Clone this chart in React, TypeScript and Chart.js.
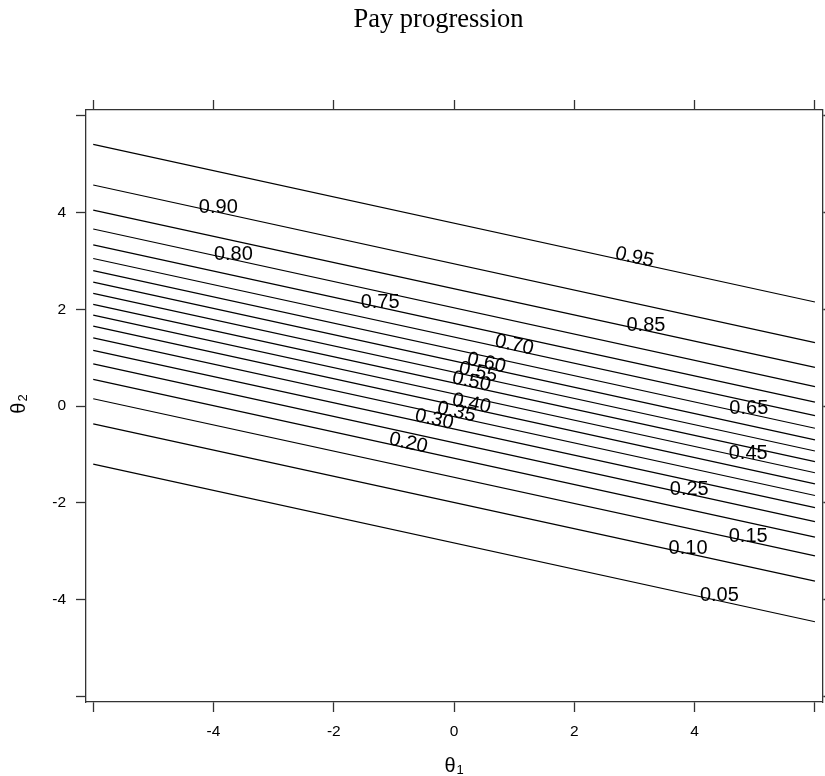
import React, { useEffect, useRef } from 'react';
import { Chart, registerables } from 'chart.js';

Chart.register(...registerables);

// Contour levels (probability) and their labels
const LEVEL_LABELS = ['0.05', '0.10', '0.15', '0.20', '0.25', '0.30', '0.35', '0.40', '0.45', '0.50',
  '0.55', '0.60', '0.65', '0.70', '0.75', '0.80', '0.85', '0.90', '0.95'];
// theta1 extent of every contour line
const THETA1_RANGE = [-6, 6];
// theta2 of each contour line at theta1 = -6 and theta1 = 6
const LEFT_THETA2 = [-1.20, -0.37, 0.15, 0.55, 0.87, 1.15, 1.41, 1.65, 1.88, 2.10,
  2.33, 2.56, 2.80, 3.05, 3.33, 3.66, 4.05, 4.57, 5.41];
const RIGHT_THETA2 = [-4.46, -3.62, -3.10, -2.71, -2.39, -2.10, -1.85, -1.61, -1.38, -1.15,
  -0.93, -0.70, -0.46, -0.20, 0.08, 0.40, 0.80, 1.31, 2.15];
// theta1 where each contour label sits, and whether it follows the line's angle
const LABEL_THETA1 = [4.41, 3.89, 4.89, -0.78, 3.91, -0.35, 0.02, 0.27, 4.89, 0.27,
  0.38, 0.52, 4.90, 0.98, -1.23, -3.67, 3.19, -3.92, 2.98];
const LABEL_ROTATED = [false, false, false, true, false, true, true, true, false, true,
  true, true, false, true, false, false, false, false, true];
// axes
const AXIS_LIMITS = [-6.12, 6.12];
const AXIS_TICKS = [-6, -4, -2, 0, 2, 4, 6];
const TICK_LABELS = ['', '-4', '-2', '0', '2', '4', ''];
const TITLE = 'Pay progression';

const SANS = '"Liberation Sans", Arial, Helvetica, sans-serif';
const SERIF = '"Liberation Serif", "Times New Roman", serif';
const AXIS_COLOR = '#333';

const decorations = {
  id: 'decorations',
  afterDatasetsDraw(chart: any) {
    const { ctx, scales, chartArea } = chart;
    const xs = scales.x;
    const ys = scales.y;
    ctx.save();
    ctx.fillStyle = '#000';
    // contour labels
    ctx.font = `20px ${SANS}`;
    ctx.textAlign = 'center';
    ctx.textBaseline = 'alphabetic';
    LEVEL_LABELS.forEach((lab, i) => {
      const t1 = LABEL_THETA1[i];
      const f = (t1 - THETA1_RANGE[0]) / (THETA1_RANGE[1] - THETA1_RANGE[0]);
      const t2 = LEFT_THETA2[i] + f * (RIGHT_THETA2[i] - LEFT_THETA2[i]);
      const px = xs.getPixelForValue(t1);
      const py = ys.getPixelForValue(t2);
      ctx.save();
      ctx.translate(px, py + 0.5);
      if (LABEL_ROTATED[i]) {
        const ang = Math.atan2(
          ys.getPixelForValue(RIGHT_THETA2[i]) - ys.getPixelForValue(LEFT_THETA2[i]),
          xs.getPixelForValue(THETA1_RANGE[1]) - xs.getPixelForValue(THETA1_RANGE[0])
        );
        ctx.rotate(ang);
      }
      ctx.fillText(lab, 0, 0);
      ctx.restore();
    });
    ctx.restore();
  },
  afterDraw(chart: any) {
    const { ctx, chartArea } = chart;
    ctx.save();
    ctx.fillStyle = '#000';
    // title
    ctx.font = `26.5px ${SERIF}`;
    ctx.textAlign = 'center';
    ctx.textBaseline = 'alphabetic';
    ctx.fillText(TITLE, 438.5, 27);

    // x axis title: theta_1
    const cx = (chartArea.left + chartArea.right) / 2;
    ctx.textAlign = 'left';
    ctx.font = `20px ${SANS}`;
    const wT = ctx.measureText('θ').width;
    ctx.font = `13px ${SANS}`;
    const w1 = ctx.measureText('1').width;
    let sx = cx - (wT + w1 + 1) / 2;
    ctx.font = `20px ${SANS}`;
    ctx.fillText('θ', sx, 772);
    ctx.font = `13px ${SANS}`;
    ctx.fillText('1', sx + wT + 1, 774);

    // y axis title: theta_2 (rotated)
    const cy = (chartArea.top + chartArea.bottom) / 2 - 2;
    ctx.save();
    ctx.translate(25, cy);
    ctx.rotate(-Math.PI / 2);
    ctx.font = `20px ${SANS}`;
    const wT2 = ctx.measureText('θ').width;
    ctx.font = `13px ${SANS}`;
    const w2 = ctx.measureText('2').width;
    const sx2 = -(wT2 + w2 + 1) / 2;
    ctx.font = `20px ${SANS}`;
    ctx.fillText('θ', sx2, 0);
    ctx.font = `13px ${SANS}`;
    ctx.fillText('2', sx2 + wT2 + 1, 2);
    ctx.restore();
    ctx.restore();
  },
};

function axis(position: string, size: number, showLabels: boolean) {
  const horizontal = position === 'top' || position === 'bottom';
  return {
    type: 'linear',
    position,
    axis: horizontal ? 'x' : 'y',
    min: AXIS_LIMITS[0],
    max: AXIS_LIMITS[1],
    afterBuildTicks: (s: any) => {
      s.ticks = AXIS_TICKS.map((v) => ({ value: v }));
    },
    afterFit: (s: any) => {
      if (horizontal) s.height = size;
      else s.width = size;
    },
    grid: {
      display: true,
      drawOnChartArea: false,
      drawTicks: true,
      tickLength: 10,
      tickWidth: 1.3,
      tickColor: AXIS_COLOR,
    },
    border: { display: true, color: AXIS_COLOR, width: 1.3 },
    ticks: {
      display: showLabels,
      autoSkip: false,
      maxRotation: 0,
      minRotation: 0,
      padding: 10,
      color: '#000',
      font: { family: SANS, size: 15.5 },
      callback: (v: number) => {
        const k = AXIS_TICKS.indexOf(v);
        return k >= 0 ? TICK_LABELS[k] : '';
      },
    },
  };
}

export default function App() {
  const ref = useRef<HTMLCanvasElement>(null);
  useEffect(() => {
    if (!ref.current) return;
    const datasets = LEVEL_LABELS.map((lab, i) => ({
      label: lab,
      data: [
        { x: THETA1_RANGE[0], y: LEFT_THETA2[i] },
        { x: THETA1_RANGE[1], y: RIGHT_THETA2[i] },
      ],
      showLine: true,
      borderColor: '#000',
      borderWidth: 1.2,
      pointRadius: 0,
      pointHoverRadius: 0,
      fill: false,
    }));
    const chart = new Chart(ref.current, {
      type: 'scatter',
      data: { datasets },
      options: {
        animation: false,
        responsive: false,
        devicePixelRatio: 1,
        layout: { padding: 0 },
        plugins: {
          legend: { display: false },
          title: { display: false },
          tooltip: { enabled: false },
        },
        scales: {
          x: axis('bottom', 74, true),
          x2: axis('top', 110, false),
          y: axis('left', 86, true),
          y2: axis('right', 2, false),
        } as any,
      },
      plugins: [decorations],
    } as any);
    return () => chart.destroy();
  }, []);
  return (
    <div style={{ position: 'absolute', left: 0, top: 0, width: 825, height: 776, background: '#fff' }}>
      <canvas ref={ref} width={825} height={776} />
    </div>
  );
}
